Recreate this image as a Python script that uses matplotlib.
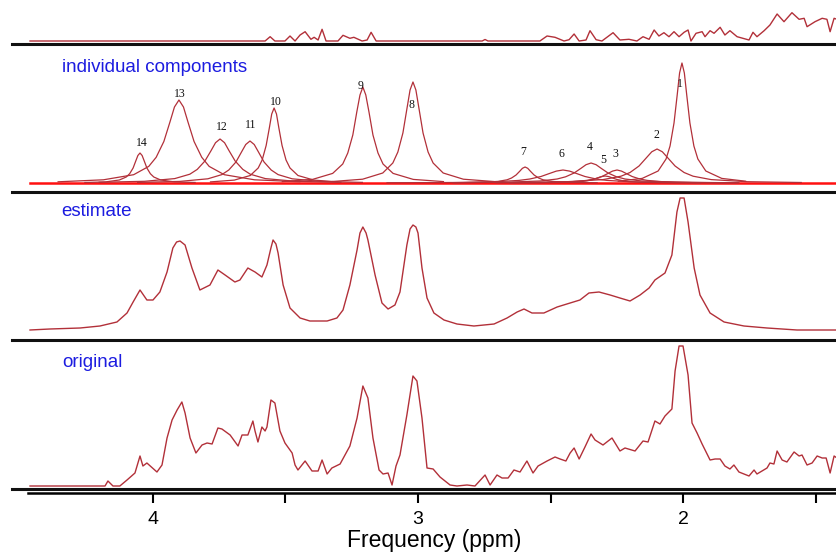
import numpy as np
import matplotlib
matplotlib.use("Agg")
import matplotlib.pyplot as plt

plt.rcParams['font.family'] = ['Liberation Sans', 'DejaVu Sans']

# ---- data (ppm, intensity) ----

# original spectrum
orig_ppm = [4.464, 4.181, 4.170, 4.151, 4.125, 4.098, 4.068, 4.049, 4.038, 4.023,
            3.985, 3.966, 3.947, 3.928, 3.909, 3.891, 3.879, 3.860, 3.838, 3.815,
            3.796, 3.777, 3.755, 3.740, 3.709, 3.679, 3.664, 3.642, 3.623, 3.615,
            3.604, 3.589, 3.577, 3.570, 3.555, 3.540, 3.521, 3.502, 3.475, 3.464,
            3.453, 3.426, 3.400, 3.377, 3.362, 3.343, 3.325, 3.294, 3.257, 3.230,
            3.208, 3.189, 3.170, 3.147, 3.132, 3.113, 3.098, 3.083, 3.068, 3.042,
            3.019, 3.004, 2.985, 2.966, 2.943, 2.917, 2.879, 2.853, 2.815, 2.785,
            2.747, 2.728, 2.702, 2.683, 2.660, 2.638, 2.615, 2.589, 2.566, 2.547,
            2.513, 2.483, 2.464, 2.442, 2.426, 2.411, 2.392, 2.370, 2.347, 2.332,
            2.302, 2.268, 2.238, 2.219, 2.181, 2.151, 2.132, 2.106, 2.087, 2.068,
            2.042, 2.030, 2.015, 2.000, 1.981, 1.966, 1.947, 1.928, 1.898, 1.879,
            1.860, 1.842, 1.823, 1.808, 1.789, 1.751, 1.732, 1.721, 1.683, 1.672,
            1.657, 1.645, 1.626, 1.608, 1.581, 1.562, 1.551, 1.532, 1.513, 1.494,
            1.475, 1.460, 1.445, 1.430, 1.419]
orig_int = [1, 1, 6, 1, 1, 7, 14, 31, 21, 24,
            15, 22, 49, 67, 77, 85, 74, 49, 34, 42,
            44, 43, 59, 58, 52, 41, 52, 52, 66, 56,
            45, 60, 56, 60, 87, 84, 56, 44, 34, 22,
            17, 26, 16, 16, 27, 13, 19, 23, 41, 69,
            101, 89, 49, 17, 13, 14, 2, 21, 32, 72,
            111, 106, 69, 19, 18, 10, 2, 1, 2, 1,
            12, 2, 12, 9, 9, 17, 15, 26, 14, 21,
            26, 30, 28, 26, 34, 39, 28, 40, 53, 47,
            42, 49, 36, 39, 36, 46, 45, 66, 63, 71,
            78, 116, 141, 141, 112, 64, 54, 43, 27, 28,
            28, 21, 18, 22, 15, 11, 17, 13, 19, 24,
            23, 36, 27, 25, 35, 31, 32, 22, 24, 31,
            29, 29, 14, 31, 29]

# fitted estimate
est_ppm = [4.464, 4.389, 4.275, 4.200, 4.136, 4.098, 4.075, 4.049, 4.023, 4.000,
           3.974, 3.947, 3.925, 3.911, 3.898, 3.879, 3.853, 3.823, 3.785, 3.755,
           3.728, 3.691, 3.672, 3.642, 3.615, 3.589, 3.570, 3.555, 3.547, 3.536,
           3.528, 3.509, 3.483, 3.445, 3.408, 3.343, 3.306, 3.283, 3.257, 3.230,
           3.219, 3.208, 3.196, 3.189, 3.162, 3.136, 3.113, 3.087, 3.068, 3.042,
           3.030, 3.019, 3.008, 3.000, 2.985, 2.966, 2.940, 2.902, 2.853, 2.789,
           2.713, 2.664, 2.626, 2.600, 2.570, 2.525, 2.475, 2.426, 2.389, 2.355,
           2.317, 2.275, 2.238, 2.200, 2.162, 2.128, 2.106, 2.068, 2.042, 2.023,
           2.011, 1.996, 1.981, 1.958, 1.936, 1.898, 1.845, 1.770, 1.683, 1.570,
           1.419]
est_int = [0, 1, 2, 4, 8, 17, 28, 40, 30, 30,
           38, 58, 82, 88, 89, 85, 62, 40, 45, 60,
           55, 48, 50, 62, 58, 53, 65, 82, 90, 86,
           77, 45, 22, 12, 9, 9, 12, 20, 45, 80,
           97, 103, 97, 90, 55, 27, 21, 25, 38, 85,
           101, 105, 103, 97, 62, 32, 17, 10, 6, 4,
           6, 12, 18, 21, 17, 17, 23, 27, 30, 37,
           38, 35, 32, 29, 35, 42, 50, 57, 75, 118,
           132, 132, 108, 62, 35, 17, 8, 4, 2, 0,
           0]

# residual (original - estimate)
res_ppm = [4.464, 3.577, 3.558, 3.540, 3.502, 3.483, 3.464, 3.445, 3.426, 3.404,
           3.392, 3.377, 3.362, 3.347, 3.302, 3.283, 3.257, 3.242, 3.211, 3.192,
           3.177, 3.158, 2.758, 2.747, 2.736, 2.540, 2.513, 2.483, 2.449, 2.430,
           2.411, 2.392, 2.366, 2.351, 2.328, 2.306, 2.264, 2.238, 2.204, 2.174,
           2.151, 2.128, 2.109, 2.091, 2.072, 2.053, 2.034, 2.015, 1.996, 1.981,
           1.970, 1.951, 1.928, 1.917, 1.898, 1.883, 1.860, 1.842, 1.823, 1.796,
           1.751, 1.736, 1.721, 1.694, 1.672, 1.645, 1.619, 1.589, 1.562, 1.543,
           1.532, 1.502, 1.475, 1.457, 1.445, 1.430, 1.419]
res_int = [0, 0, 4.3, 0, 0, 5, 0, 6, 9.3, 1.7,
           3.7, 1, 11.7, 0, 0, 5.7, 2.7, 3.7, 0, 1,
           8.7, 0, 0, 1.5, 0, 0, 5, 3.7, 0, 1.3,
           7, 0, 1, 10.3, 1.3, 0, 8.3, 1, 1.7, 0,
           4.3, 1.7, 11, 5, 8.3, 4.3, 9.3, 4.3, 8.7, 11,
           0, 7.7, 9.3, 4.3, 10.3, 7.7, 13.7, 6, 10.3, 4.3,
           1, 8.7, 4.3, 10.3, 16, 27, 19.3, 28.3, 21.7, 22.7,
           14.3, 19.3, 22.7, 21.7, 9.3, 22.7, 21.7]

# individual components, numbered 1..14
comp_ppm = [
    [2.244, 2.154, 2.094, 2.064, 2.049, 2.034, 2.022, 2.013, 2.004, 1.995, 1.986, 1.974, 1.959, 1.944, 1.914, 1.854, 1.764],
    [2.642, 2.438, 2.302, 2.234, 2.200, 2.166, 2.139, 2.118, 2.098, 2.078, 2.057, 2.030, 1.996, 1.962, 1.894, 1.758, 1.554],
    [2.705, 2.534, 2.420, 2.363, 2.335, 2.306, 2.283, 2.266, 2.249, 2.232, 2.215, 2.192, 2.163, 2.135, 2.078, 1.964, 1.793],
    [2.859, 2.667, 2.539, 2.475, 2.443, 2.411, 2.385, 2.366, 2.347, 2.328, 2.309, 2.283, 2.251, 2.219, 2.155, 2.027, 1.835],
    [2.654, 2.519, 2.429, 2.384, 2.362, 2.339, 2.321, 2.308, 2.294, 2.280, 2.267, 2.249, 2.226, 2.204, 2.159, 2.069, 1.934],
    [3.117, 2.868, 2.702, 2.619, 2.578, 2.536, 2.503, 2.478, 2.453, 2.428, 2.403, 2.370, 2.328, 2.287, 2.204, 2.038, 1.789],
    [2.868, 2.766, 2.698, 2.664, 2.647, 2.630, 2.616, 2.606, 2.596, 2.586, 2.576, 2.562, 2.545, 2.528, 2.494, 2.426, 2.324],
    [3.323, 3.209, 3.133, 3.095, 3.076, 3.057, 3.042, 3.030, 3.019, 3.008, 2.996, 2.981, 2.962, 2.943, 2.905, 2.829, 2.715],
    [3.512, 3.398, 3.322, 3.284, 3.265, 3.246, 3.231, 3.219, 3.208, 3.197, 3.185, 3.170, 3.151, 3.132, 3.094, 3.018, 2.904],
    [3.783, 3.693, 3.633, 3.603, 3.588, 3.573, 3.561, 3.552, 3.543, 3.534, 3.525, 3.513, 3.498, 3.483, 3.453, 3.393, 3.303],
    [4.058, 3.899, 3.793, 3.740, 3.714, 3.687, 3.666, 3.650, 3.634, 3.618, 3.602, 3.581, 3.554, 3.528, 3.475, 3.369, 3.210],
    [4.203, 4.032, 3.918, 3.861, 3.833, 3.804, 3.781, 3.764, 3.747, 3.730, 3.713, 3.690, 3.661, 3.633, 3.576, 3.462, 3.291],
    [4.358, 4.187, 4.073, 4.016, 3.988, 3.959, 3.936, 3.919, 3.902, 3.885, 3.868, 3.845, 3.816, 3.788, 3.731, 3.617, 3.446],
    [4.257, 4.179, 4.127, 4.101, 4.088, 4.075, 4.065, 4.057, 4.049, 4.041, 4.033, 4.023, 4.010, 3.997, 3.971, 3.919, 3.841],
]
comp_int = [
    [1.8, 4.6, 12, 24, 37, 60, 88, 110, 120, 110, 88, 60, 37, 24, 12, 4.6, 1.8],
    [0.5, 1.3, 3.4, 6.8, 10.5, 17, 25, 31.2, 34, 31.2, 25, 17, 10.5, 6.8, 3.4, 1.3, 0.5],
    [0.2, 0.5, 1.3, 2.6, 4, 6.5, 9.6, 11.9, 13, 11.9, 9.6, 6.5, 4, 2.6, 1.3, 0.5, 0.2],
    [0.3, 0.8, 2, 4, 6.2, 10, 14.7, 18.3, 20, 18.3, 14.7, 10, 6.2, 4, 2, 0.8, 0.3],
    [0.1, 0.3, 0.7, 1.4, 2.2, 3.5, 5.1, 6.4, 7, 6.4, 5.1, 3.5, 2.2, 1.4, 0.7, 0.3, 0.1],
    [0.2, 0.5, 1.3, 2.6, 4, 6.5, 9.6, 11.9, 13, 11.9, 9.6, 6.5, 4, 2.6, 1.3, 0.5, 0.2],
    [0.2, 0.6, 1.6, 3.2, 5, 8, 11.8, 14.7, 16, 14.7, 11.8, 8, 5, 3.2, 1.6, 0.6, 0.2],
    [1.5, 3.8, 10, 20, 31, 50, 74, 93, 101, 93, 74, 50, 31, 20, 10, 3.8, 1.5],
    [1.4, 3.6, 9.6, 19, 30, 48, 71, 88, 96, 88, 71, 48, 30, 19, 9.6, 3.6, 1.4],
    [1.1, 2.9, 7.5, 15, 23, 37.5, 55, 69, 75, 69, 55, 37.5, 23, 15, 7.5, 2.9, 1.1],
    [0.6, 1.6, 4.2, 8.4, 13, 21, 31, 38.5, 42, 38.5, 31, 21, 13, 8.4, 4.2, 1.6, 0.6],
    [0.7, 1.7, 4.4, 8.8, 13.6, 22, 32.3, 40.3, 44, 40.3, 32.3, 22, 13.6, 8.8, 4.4, 1.7, 0.7],
    [1.2, 3.2, 8.3, 16.6, 25.7, 41.5, 61, 76, 83, 76, 61, 41.5, 25.7, 16.6, 8.3, 3.2, 1.2],
    [0.5, 1.1, 3, 6, 9.3, 15, 22, 27.5, 30, 27.5, 22, 15, 9.3, 6, 3, 1.1, 0.5],
]
label_text = ['1', '2', '3', '4', '5', '6', '7', '8', '9', '10', '11', '12', '13', '14']
label_ppm = [2.011, 2.102, 2.257, 2.351, 2.302, 2.457, 2.604, 3.026, 3.215, 3.536, 3.630, 3.740, 3.898, 4.042]
label_int = [99, 48, 29, 36, 23, 29, 31, 78, 97, 81, 58, 56, 89, 40]

major_ticks = [4, 3, 2]
minor_ticks = [3.5, 2.5, 1.5]

LINE = '#b23039'
BLUE = '#1c1ce0'

fig = plt.figure(figsize=(8.37, 5.56), dpi=100)
L, W = 12 / 837, 825 / 837


def panel(bottom, height, ylim):
    ax = fig.add_axes([L, bottom, W, height])
    for s in ['top', 'left', 'right']:
        ax.spines[s].set_visible(False)
    ax.spines['bottom'].set_linewidth(2.2)
    ax.spines['bottom'].set_color('#111111')
    ax.set_xlim(4.532, 1.419)
    ax.set_ylim(*ylim)
    ax.set_xticks([])
    ax.set_yticks([])
    ax.patch.set_alpha(0)
    return ax


ax_res = panel(512 / 556, 44 / 556, (-3, 41))
ax_comp = panel(364 / 556, 148 / 556, (-9, 139))
ax_est = panel(216 / 556, 148 / 556, (-10, 138))
ax_orig = panel(67 / 556, 149 / 556, (-2, 147))

# residual
ax_res.plot(res_ppm, res_int, color=LINE, lw=1.0)

# components
ax_comp.plot([4.464, 1.419], [0, 0], color='#ff1010', lw=1.8)
for xs, ys in zip(comp_ppm, comp_int):
    ax_comp.plot(xs, ys, color=LINE, lw=0.9)
for t, x, y in zip(label_text, label_ppm, label_int):
    ax_comp.text(x, y, t, fontsize=8.5, family='Liberation Serif',
                 ha='center', va='center', color='#111111')
ax_comp.text(50 / 825, 0.838, 'individual components', transform=ax_comp.transAxes,
             color=BLUE, fontsize=13.5, va='center', ha='left')

# estimate
ax_est.plot(est_ppm, est_int, color=LINE, lw=1.0)
ax_est.text(49 / 825, 0.865, 'estimate', transform=ax_est.transAxes,
            color=BLUE, fontsize=13.5, va='center', ha='left')

# original
ax_orig.plot(orig_ppm, orig_int, color=LINE, lw=1.0)
ax_orig.text(50 / 825, 0.846, 'original', transform=ax_orig.transAxes,
             color=BLUE, fontsize=13.5, va='center', ha='left')

# frequency axis, drawn a little below the last panel
sec = ax_orig.secondary_xaxis(-4 / 149)
sec.spines['bottom'].set_linewidth(1.8)
sec.spines['bottom'].set_bounds(4.47, 1.419)
sec.set_xticks(major_ticks)
sec.set_xticklabels([str(t) for t in major_ticks])
sec.set_xticks(minor_ticks, minor=True)
sec.tick_params(which='both', direction='out', length=7, width=1.5, labelsize=14, pad=6)
sec.set_xlabel('Frequency (ppm)', fontsize=16.5, labelpad=1)
sec.xaxis.label.set_x((434 - 12) / 825)

fig.savefig('out.png', dpi=100)
